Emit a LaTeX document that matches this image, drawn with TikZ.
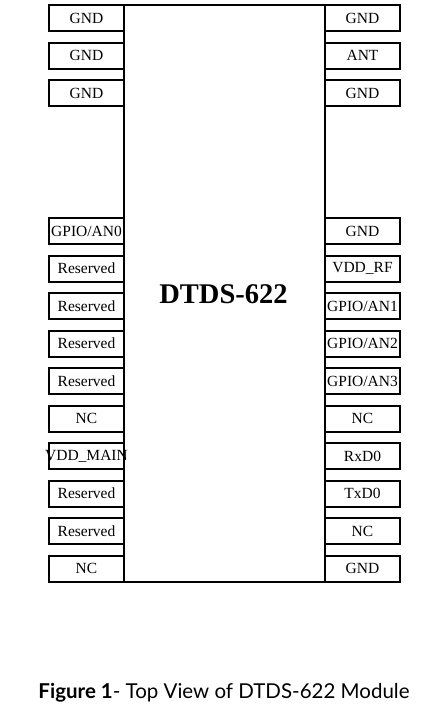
\documentclass[tikz,border=0pt]{standalone}
\usepackage{fontspec}
\setmainfont{Liberation Serif}
\newfontfamily\capfont{Lato}
\usetikzlibrary{positioning}

\begin{document}
\begin{tikzpicture}[x=1pt,y=-1pt,
  pin/.style={draw,line width=2pt,fill=white,minimum width=75pt,minimum height=26pt,
    inner sep=0pt,font=\fontsize{15.5}{15.5}\selectfont},
  body/.style={draw,line width=2pt}]
\useasboundingbox (0,0) rectangle (436,716);

% {Module body};
\draw [body] (124,5) rectangle (325,582);
\node[font=\fontsize{28.5}{28.5}\selectfont\bfseries] (title) at (223.5,294) {DTDS-622};

% {Left pins};
\node[pin] (l1) at (86.5,18) {GND};
\node[pin] (l2) at (86.5,55.5) {GND};
\node[pin] (l3) at (86.5,93) {GND};
\node[pin] (l4) at (86.5,231) {GPIO/AN0};
\node[pin] (l5) at (86.5,268.5) {Reserved};
\node[pin] (l6) at (86.5,306) {Reserved};
\node[pin] (l7) at (86.5,343.5) {Reserved};
\node[pin] (l8) at (86.5,381) {Reserved};
\node[pin] (l9) at (86.5,418.5) {NC};
\node[pin] (l10) at (86.5,456) {\makebox[70pt]{VDD\_MAIN}};
\node[pin] (l11) at (86.5,493.5) {Reserved};
\node[pin] (l12) at (86.5,531) {Reserved};
\node[pin] (l13) at (86.5,568.5) {NC};

% {Right pins};
\node[pin] (r1) at (362.5,18) {GND};
\node[pin] (r2) at (362.5,55.5) {ANT};
\node[pin] (r3) at (362.5,93) {GND};
\node[pin] (r4) at (362.5,231) {GND};
\node[pin] (r5) at (362.5,268.5) {VDD\_RF};
\node[pin] (r6) at (362.5,306) {GPIO/AN1};
\node[pin] (r7) at (362.5,343.5) {GPIO/AN2};
\node[pin] (r8) at (362.5,381) {GPIO/AN3};
\node[pin] (r9) at (362.5,418.5) {NC};
\node[pin] (r10) at (362.5,456) {RxD0};
\node[pin] (r11) at (362.5,493.5) {TxD0};
\node[pin] (r12) at (362.5,531) {NC};
\node[pin] (r13) at (362.5,568.5) {GND};

% {Caption};
\node[font=\capfont\fontsize{20.5}{20.5}\selectfont] (caption) at (224,693)
  {\textbf{Figure 1}- Top View of DTDS-622 Module};
\end{tikzpicture}
\end{document}
